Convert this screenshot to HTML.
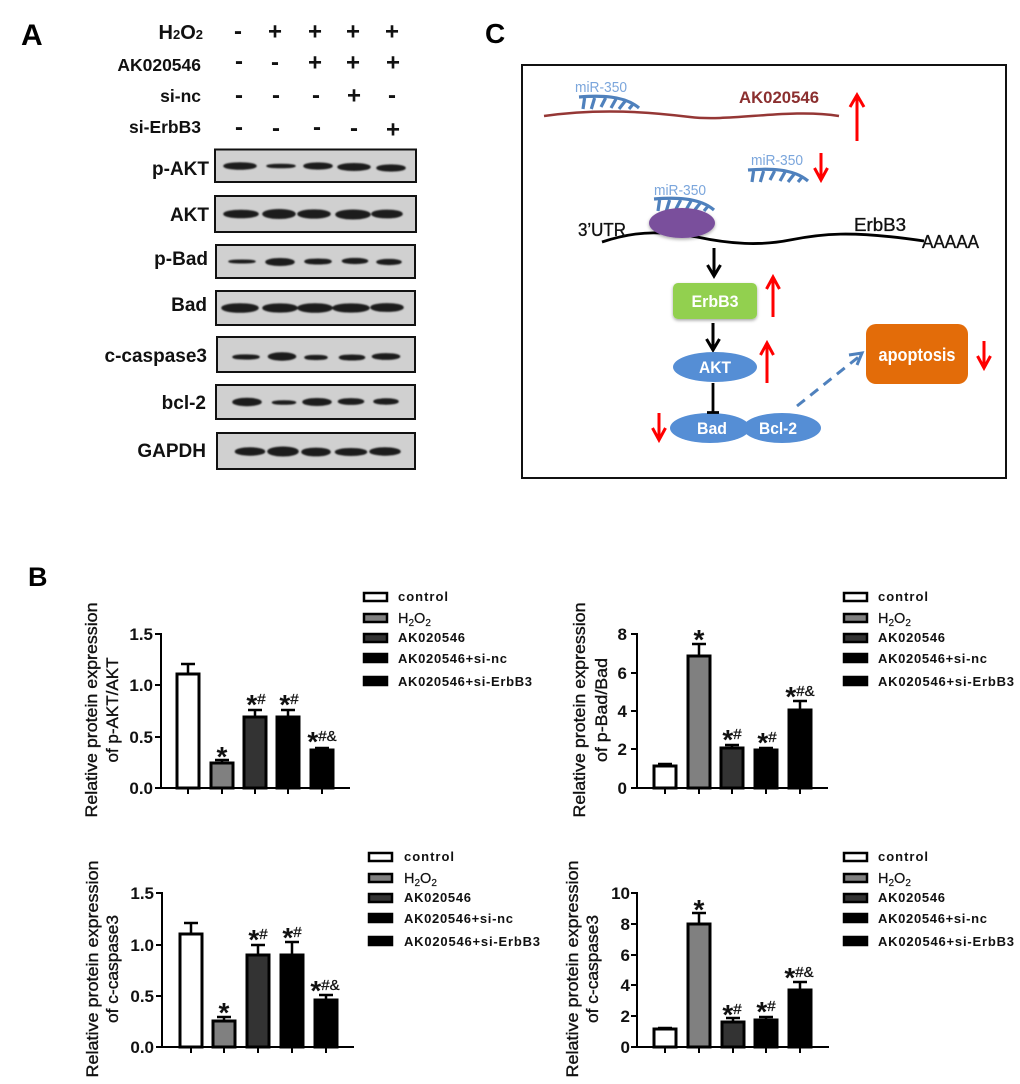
<!DOCTYPE html>
<html><head><meta charset="utf-8"><style>
html,body{margin:0;padding:0;background:#fff}
svg{display:block}
text{font-family:"Liberation Sans",sans-serif}
.lbl{font-weight:bold;font-size:19px;text-anchor:end;fill:#111}
.hd{font-weight:bold;font-size:17.5px;text-anchor:end;fill:#111}
.h2{font-weight:bold;font-size:20px;text-anchor:end;fill:#111}
.sg{font-weight:bold;font-size:24px;text-anchor:middle;fill:#111}
.pn{font-weight:bold;fill:#000}
.tk{font-weight:bold;font-size:17px;text-anchor:end;fill:#111}
.yt{font-size:16.5px;text-anchor:middle;fill:#111;stroke:#111;stroke-width:.35}
.lg{font-weight:bold;font-size:13px;fill:#111}
.lh{font-size:14.5px;fill:#111;stroke:#111;stroke-width:.2}
.st{font-weight:bold;font-size:28px;text-anchor:middle;fill:#111}
.st tspan+tspan{font-size:15px;font-weight:normal;stroke:#111;stroke-width:.3}
.box{fill:#d0d0d0;stroke:#111;stroke-width:2}
.bd ellipse{fill:#1c1c1c;stroke:#1c1c1c;stroke-width:1.6}
.ax{stroke:#000;stroke-width:2;fill:none}
.br{stroke:#000;stroke-width:3}
.er{stroke:#000;stroke-width:2.5;fill:none}
.sw{stroke:#000;stroke-width:2.5}
.ra{stroke:#f00;stroke-width:3;fill:none}
.ka{stroke:#000;stroke-width:3;fill:none}
.cm{stroke:#4f81bd;stroke-width:3.2;fill:none}
.mi{font-size:14.5px;fill:#7ba6dc}
.wt{font-weight:bold;fill:#fff;text-anchor:middle}
.cb{fill:#111;font-size:18px;stroke:#111;stroke-width:.35}
</style></head><body>
<svg width="1020" height="1084" viewBox="0 0 1020 1084" xmlns="http://www.w3.org/2000/svg">
<defs>
<filter id="b" x="-20%" y="-100%" width="140%" height="300%"><feGaussianBlur stdDeviation="0.8"/></filter>
<filter id="sh" x="-20%" y="-30%" width="140%" height="170%"><feDropShadow dx="0" dy="1.5" stdDeviation="1.5" flood-color="#000" flood-opacity=".35"/></filter>
<g id="comb">
<path class="cm" d="M0 0C20-1.5 45-2 60 11"/>
<path class="cm" d="M5.6 1L4 12M15.6 1L12.3 12M26.6 1L22 10M37 2L32 11M47 3L40 12M55 6L50 12"/>
</g>
</defs>
<rect width="1020" height="1084" fill="#fff"/>

<!-- Panel A -->
<text class="pn" x="21" y="45" font-size="30">A</text>
<text class="h2" x="203" y="39">H<tspan font-size="13">2</tspan>O<tspan font-size="13">2</tspan></text>
<text class="hd" x="201" y="71">AK020546</text>
<text class="hd" x="201" y="102">si-nc</text>
<text class="hd" x="201" y="133">si-ErbB3</text>
<text class="sg" x="238" y="39">-</text><text class="sg" x="275" y="39.500">+</text><text class="sg" x="315" y="39.500">+</text><text class="sg" x="353" y="39.500">+</text><text class="sg" x="392" y="39.500">+</text>
<text class="sg" x="239" y="69">-</text><text class="sg" x="275" y="70">-</text><text class="sg" x="315" y="70.500">+</text><text class="sg" x="353" y="70.500">+</text><text class="sg" x="393" y="70.500">+</text>
<text class="sg" x="239" y="103">-</text><text class="sg" x="276" y="103">-</text><text class="sg" x="316" y="103">-</text><text class="sg" x="354" y="103.500">+</text><text class="sg" x="392" y="103">-</text>
<text class="sg" x="239" y="135">-</text><text class="sg" x="276" y="136">-</text><text class="sg" x="317" y="135">-</text><text class="sg" x="354" y="136">-</text><text class="sg" x="393" y="137.500">+</text>

<text class="lbl" x="209" y="175">p-AKT</text>
<text class="lbl" x="209" y="221">AKT</text>
<text class="lbl" x="208" y="265">p-Bad</text>
<text class="lbl" x="207" y="311">Bad</text>
<text class="lbl" x="207" y="362">c-caspase3</text>
<text class="lbl" x="206" y="409">bcl-2</text>
<text class="lbl" x="206" y="457">GAPDH</text>

<rect class="box" x="215" y="149.500" width="201" height="32.500"/>
<rect class="box" x="215" y="196" width="201" height="36"/>
<rect class="box" x="216" y="245" width="199" height="33"/>
<rect class="box" x="216" y="291" width="199" height="34"/>
<rect class="box" x="217" y="337" width="198" height="35"/>
<rect class="box" x="216" y="385" width="199" height="34"/>
<rect class="box" x="217" y="433" width="198" height="36"/>

<g class="bd" filter="url(#b)">
<ellipse cx="240" cy="166" rx="16" ry="3"/><ellipse cx="281" cy="166" rx="14" ry="1.500"/><ellipse cx="318" cy="166" rx="14" ry="2.800"/><ellipse cx="354" cy="167" rx="16" ry="3.200"/><ellipse cx="391" cy="168" rx="14" ry="2.800"/>
<ellipse cx="241" cy="214" rx="17" ry="3.400"/><ellipse cx="279" cy="214" rx="16" ry="4.200"/><ellipse cx="314" cy="214" rx="16" ry="3.800"/><ellipse cx="353" cy="214.500" rx="17" ry="4.200"/><ellipse cx="387" cy="214" rx="15" ry="3.600"/>
<ellipse cx="242" cy="261.500" rx="13" ry="1.200"/><ellipse cx="280" cy="262" rx="14" ry="3.200"/><ellipse cx="318" cy="261.500" rx="13" ry="2.200"/><ellipse cx="355" cy="261" rx="12.500" ry="2.300"/><ellipse cx="389" cy="262" rx="12" ry="2.300"/>
<ellipse cx="240" cy="308" rx="18" ry="4"/><ellipse cx="280" cy="308" rx="17" ry="3.800"/><ellipse cx="315" cy="308" rx="17" ry="4"/><ellipse cx="351" cy="308" rx="18" ry="3.800"/><ellipse cx="387" cy="307.500" rx="16" ry="3.600"/>
<ellipse cx="246" cy="357" rx="13" ry="1.800"/><ellipse cx="282" cy="356.500" rx="13.500" ry="3.400"/><ellipse cx="316" cy="357.500" rx="11" ry="1.800"/><ellipse cx="352" cy="357.500" rx="12.500" ry="2.200"/><ellipse cx="386" cy="356.500" rx="13.500" ry="2.600"/>
<ellipse cx="247" cy="402" rx="14" ry="3.400"/><ellipse cx="284" cy="402.500" rx="11.500" ry="1.500"/><ellipse cx="317" cy="402" rx="14" ry="3.200"/><ellipse cx="351" cy="401.500" rx="12.500" ry="2.600"/><ellipse cx="386" cy="401.500" rx="12" ry="2.400"/>
<ellipse cx="250" cy="451.500" rx="14.500" ry="3.400"/><ellipse cx="283" cy="451.500" rx="15" ry="4.200"/><ellipse cx="316" cy="452" rx="14" ry="3.600"/><ellipse cx="351" cy="452" rx="15.500" ry="3.200"/><ellipse cx="385" cy="451.500" rx="15" ry="3.400"/>
</g>

<!-- Panel C -->
<text class="pn" x="485" y="43" font-size="28">C</text>
<rect x="522" y="65" width="484" height="413" fill="#fff" stroke="#111" stroke-width="2"/>
<path d="M544 116C600 108 650 112 690 117S790 108 839 116" fill="none" stroke="#953735" stroke-width="2.500"/>
<text x="739" y="103" font-size="17" textLength="80" lengthAdjust="spacingAndGlyphs" fill="#8b2f2f" font-weight="bold">AK020546</text>
<text class="mi" x="575" y="92" textLength="52" lengthAdjust="spacingAndGlyphs">miR-350</text>
<use href="#comb" x="579" y="97"/>
<text class="mi" x="751" y="165" textLength="52" lengthAdjust="spacingAndGlyphs">miR-350</text>
<use href="#comb" x="748" y="170"/>
<text class="mi" x="654" y="195" textLength="52" lengthAdjust="spacingAndGlyphs">miR-350</text>
<use href="#comb" x="654" y="199"/>
<path class="ra" d="M857 141V95M850 107L857 95L864 107"/>
<path class="ra" d="M821 153V180M814.500 168L821 180L827.500 168"/>
<path class="ra" d="M773 317V277M766.500 289L773 277L779.500 289"/>
<path class="ra" d="M767 383V343M760.500 355L767 343L773.500 355"/>
<path class="ra" d="M659 413V440M652.500 428L659 440L665.500 428"/>
<path class="ra" d="M984 341V368M977.500 356L984 368L990.500 356"/>
<path d="M602 242C620 236 640 232 660 233C675 234 685 235 697 237C730 244 760 246 790 240S850 230 924 241" fill="none" stroke="#000" stroke-width="2.800"/>
<ellipse cx="682" cy="223" rx="33" ry="15" fill="#7a4f9c" filter="url(#sh)"/>
<text class="cb" x="578" y="236" textLength="48" lengthAdjust="spacingAndGlyphs">3’UTR</text>
<text class="cb" x="854" y="231" textLength="52" lengthAdjust="spacingAndGlyphs">ErbB3</text>
<text class="cb" x="922" y="248" textLength="57" lengthAdjust="spacingAndGlyphs">AAAAA</text>
<path class="ka" d="M714 248V276M707.500 265L714 276L720.500 265"/>
<rect x="673" y="283" width="84" height="36" rx="5" fill="#92d050" filter="url(#sh)"/>
<text class="wt" x="715" y="307" font-size="17" textLength="47" lengthAdjust="spacingAndGlyphs">ErbB3</text>
<path class="ka" d="M713 323V350M706.500 339L713 350L719.500 339"/>
<ellipse cx="715" cy="367" rx="42" ry="15" fill="#558ed5"/>
<text class="wt" x="715" y="373" font-size="17" textLength="32" lengthAdjust="spacingAndGlyphs">AKT</text>
<ellipse cx="782" cy="428" rx="39" ry="15" fill="#558ed5"/>
<ellipse cx="710" cy="428" rx="40" ry="15" fill="#558ed5"/>
<path d="M713 383V412M707 412.500H719" fill="none" stroke="#000" stroke-width="2.800"/>
<text class="wt" x="712" y="434" font-size="17" textLength="30" lengthAdjust="spacingAndGlyphs">Bad</text>
<text class="wt" x="778" y="434" font-size="17" textLength="38" lengthAdjust="spacingAndGlyphs">Bcl-2</text>
<rect x="866" y="324" width="102" height="60" rx="10" fill="#e36c09"/>
<text class="wt" x="917" y="361" font-size="18" textLength="77" lengthAdjust="spacingAndGlyphs">apoptosis</text>
<path d="M797 406L861 355" fill="none" stroke="#4f81bd" stroke-width="3" stroke-dasharray="10 7"/>
<path d="M849 355L862 353L857 365" fill="none" stroke="#4f81bd" stroke-width="3"/>

<!-- Panel B -->
<text class="pn" x="28" y="586" font-size="27">B</text>

<!-- Chart 1 -->
<text class="yt" transform="translate(97 710) rotate(-90)" textLength="215" lengthAdjust="spacingAndGlyphs">Relative protein expression</text>
<text class="yt" transform="translate(118 710) rotate(-90)" textLength="105" lengthAdjust="spacingAndGlyphs">of p-AKT/AKT</text>
<text class="tk" x="153" y="640">1.5</text><text class="tk" x="153" y="691">1.0</text><text class="tk" x="153" y="743">0.5</text><text class="tk" x="153" y="794">0.0</text>
<path class="ax" d="M155 634H161M155 685H161M155 737H161M155 788H350M161 633V789M188 788V794M222 788V794M255 788V794M288 788V794M322 788V794"/>
<path class="er" d="M188 674V664M181 664H195M222 763V760M215 760H229M255 717V710M248 710H262M288 717V710M281 710H295M322 750V748M315 748H329"/>
<rect class="br" x="177" y="674" width="22" height="114" fill="#fff"/><rect class="br" x="211" y="763" width="22" height="25" fill="#808080"/><rect class="br" x="244" y="717" width="22" height="71" fill="#333"/><rect class="br" x="277" y="717" width="22" height="71" fill="#000"/><rect class="br" x="311" y="750" width="22" height="38" fill="#000"/>
<text class="st" x="222" y="766"><tspan>*</tspan></text>
<text class="st" x="256" y="714"><tspan>*</tspan><tspan dy="-10">#</tspan></text>
<text class="st" x="289" y="714"><tspan>*</tspan><tspan dy="-10">#</tspan></text>
<text class="st" x="322" y="751"><tspan>*</tspan><tspan dy="-10">#&amp;</tspan></text>
<rect class="sw" x="364" y="593" width="23" height="8" fill="#fff"/><rect class="sw" x="364" y="614" width="23" height="8" fill="#808080"/><rect class="sw" x="364" y="634" width="23" height="8" fill="#333"/><rect class="sw" x="364" y="654" width="23" height="8" fill="#000"/><rect class="sw" x="364" y="677" width="23" height="8" fill="#000"/>
<text class="lg" x="398" y="601" textLength="50">control</text>
<text class="lh" x="398" y="623">H<tspan font-size="10" dy="3">2</tspan><tspan dy="-3">O</tspan><tspan font-size="10" dy="3">2</tspan></text>
<text class="lg" x="398" y="642" textLength="67">AK020546</text>
<text class="lg" x="398" y="663" textLength="109">AK020546+si-nc</text>
<text class="lg" x="398" y="686" textLength="134">AK020546+si-ErbB3</text>

<!-- Chart 2 -->
<text class="yt" transform="translate(585 710) rotate(-90)" textLength="215" lengthAdjust="spacingAndGlyphs">Relative protein expression</text>
<text class="yt" transform="translate(607 710) rotate(-90)" textLength="104" lengthAdjust="spacingAndGlyphs">of p-Bad/Bad</text>
<text class="tk" x="627" y="640">8</text><text class="tk" x="627" y="679">6</text><text class="tk" x="627" y="717">4</text><text class="tk" x="627" y="755">2</text><text class="tk" x="627" y="794">0</text>
<path class="ax" d="M631 634H637M631 673H637M631 711H637M631 749H637M631 788H828M637 633V789M665 788V794M699 788V794M732 788V794M766 788V794M800 788V794"/>
<path class="er" d="M665 766V764M658 764H672M699 656V644M692 644H706M732 748V745M725 745H739M766 750V748M759 748H773M800 710V701M793 701H807"/>
<rect class="br" x="654" y="766" width="22" height="22" fill="#fff"/><rect class="br" x="688" y="656" width="22" height="132" fill="#808080"/><rect class="br" x="721" y="748" width="22" height="40" fill="#333"/><rect class="br" x="755" y="750" width="22" height="38" fill="#000"/><rect class="br" x="789" y="710" width="22" height="78" fill="#000"/>
<text class="st" x="699" y="649"><tspan>*</tspan></text>
<text class="st" x="732" y="749"><tspan>*</tspan><tspan dy="-10">#</tspan></text>
<text class="st" x="767" y="752"><tspan>*</tspan><tspan dy="-10">#</tspan></text>
<text class="st" x="800" y="706"><tspan>*</tspan><tspan dy="-10">#&amp;</tspan></text>
<rect class="sw" x="844" y="593" width="23" height="8" fill="#fff"/><rect class="sw" x="844" y="614" width="23" height="8" fill="#808080"/><rect class="sw" x="844" y="634" width="23" height="8" fill="#333"/><rect class="sw" x="844" y="654" width="23" height="8" fill="#000"/><rect class="sw" x="844" y="677" width="23" height="8" fill="#000"/>
<text class="lg" x="878" y="601" textLength="50">control</text>
<text class="lh" x="878" y="623">H<tspan font-size="10" dy="3">2</tspan><tspan dy="-3">O</tspan><tspan font-size="10" dy="3">2</tspan></text>
<text class="lg" x="878" y="642" textLength="67">AK020546</text>
<text class="lg" x="878" y="663" textLength="109">AK020546+si-nc</text>
<text class="lg" x="878" y="686" textLength="136">AK020546+si-ErbB3</text>

<!-- Chart 3 -->
<text class="yt" transform="translate(98 969) rotate(-90)" textLength="217" lengthAdjust="spacingAndGlyphs">Relative protein expression</text>
<text class="yt" transform="translate(118 969) rotate(-90)" textLength="108" lengthAdjust="spacingAndGlyphs">of c-caspase3</text>
<text class="tk" x="154" y="899">1.5</text><text class="tk" x="154" y="951">1.0</text><text class="tk" x="154" y="1002">0.5</text><text class="tk" x="154" y="1053">0.0</text>
<path class="ax" d="M156 893H162M156 945H162M156 996H162M156 1047H354M162 892V1048M191 1047V1053M224 1047V1053M258 1047V1053M292 1047V1053M326 1047V1053"/>
<path class="er" d="M191 934V923M184 923H198M224 1021V1017M217 1017H231M258 955V945M251 945H265M292 955V942M285 942H299M326 1000V995M319 995H333"/>
<rect class="br" x="180" y="934" width="22" height="113" fill="#fff"/><rect class="br" x="213" y="1021" width="22" height="26" fill="#808080"/><rect class="br" x="247" y="955" width="22" height="92" fill="#333"/><rect class="br" x="281" y="955" width="22" height="92" fill="#000"/><rect class="br" x="315" y="1000" width="22" height="47" fill="#000"/>
<text class="st" x="224" y="1022"><tspan>*</tspan></text>
<text class="st" x="258" y="949"><tspan>*</tspan><tspan dy="-10">#</tspan></text>
<text class="st" x="292" y="947"><tspan>*</tspan><tspan dy="-10">#</tspan></text>
<text class="st" x="325" y="1000"><tspan>*</tspan><tspan dy="-10">#&amp;</tspan></text>
<rect class="sw" x="369" y="853" width="23" height="8" fill="#fff"/><rect class="sw" x="369" y="874" width="23" height="8" fill="#808080"/><rect class="sw" x="369" y="894" width="23" height="8" fill="#333"/><rect class="sw" x="369" y="914" width="23" height="8" fill="#000"/><rect class="sw" x="369" y="937" width="23" height="8" fill="#000"/>
<text class="lg" x="404" y="861" textLength="50">control</text>
<text class="lh" x="404" y="883">H<tspan font-size="10" dy="3">2</tspan><tspan dy="-3">O</tspan><tspan font-size="10" dy="3">2</tspan></text>
<text class="lg" x="404" y="902" textLength="67">AK020546</text>
<text class="lg" x="404" y="923" textLength="109">AK020546+si-nc</text>
<text class="lg" x="404" y="946" textLength="136">AK020546+si-ErbB3</text>

<!-- Chart 4 -->
<text class="yt" transform="translate(578 969) rotate(-90)" textLength="217" lengthAdjust="spacingAndGlyphs">Relative protein expression</text>
<text class="yt" transform="translate(598 969) rotate(-90)" textLength="108" lengthAdjust="spacingAndGlyphs">of c-caspase3</text>
<text class="tk" x="630" y="899">10</text><text class="tk" x="630" y="930">8</text><text class="tk" x="630" y="961">6</text><text class="tk" x="630" y="991">4</text><text class="tk" x="630" y="1022">2</text><text class="tk" x="630" y="1053">0</text>
<path class="ax" d="M631 893H637M631 924H637M631 955H637M631 985H637M631 1016H637M631 1047H829M637 892V1048M665 1047V1053M699 1047V1053M733 1047V1053M766 1047V1053M800 1047V1053"/>
<path class="er" d="M665 1029V1028M658 1028H672M699 924V913M692 913H706M733 1022V1018M726 1018H740M766 1020V1017M759 1017H773M800 990V982M793 982H807"/>
<rect class="br" x="654" y="1029" width="22" height="18" fill="#fff"/><rect class="br" x="688" y="924" width="22" height="123" fill="#808080"/><rect class="br" x="722" y="1022" width="22" height="25" fill="#333"/><rect class="br" x="755" y="1020" width="22" height="27" fill="#000"/><rect class="br" x="789" y="990" width="22" height="57" fill="#000"/>
<text class="st" x="699" y="919"><tspan>*</tspan></text>
<text class="st" x="732" y="1024"><tspan>*</tspan><tspan dy="-10">#</tspan></text>
<text class="st" x="766" y="1021"><tspan>*</tspan><tspan dy="-10">#</tspan></text>
<text class="st" x="799" y="987"><tspan>*</tspan><tspan dy="-10">#&amp;</tspan></text>
<rect class="sw" x="844" y="853" width="23" height="8" fill="#fff"/><rect class="sw" x="844" y="874" width="23" height="8" fill="#808080"/><rect class="sw" x="844" y="894" width="23" height="8" fill="#333"/><rect class="sw" x="844" y="914" width="23" height="8" fill="#000"/><rect class="sw" x="844" y="937" width="23" height="8" fill="#000"/>
<text class="lg" x="878" y="861" textLength="50">control</text>
<text class="lh" x="878" y="883">H<tspan font-size="10" dy="3">2</tspan><tspan dy="-3">O</tspan><tspan font-size="10" dy="3">2</tspan></text>
<text class="lg" x="878" y="902" textLength="67">AK020546</text>
<text class="lg" x="878" y="923" textLength="109">AK020546+si-nc</text>
<text class="lg" x="878" y="946" textLength="136">AK020546+si-ErbB3</text>
</svg>
</body></html>
